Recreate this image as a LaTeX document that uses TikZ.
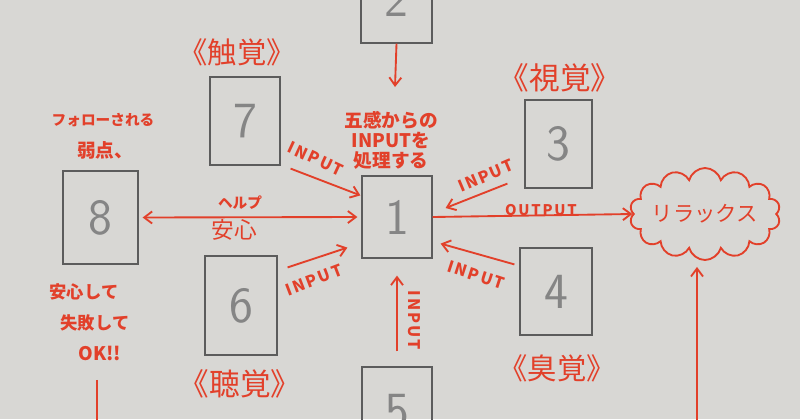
\documentclass[tikz,border=0pt]{standalone}
\usepackage{fontspec}
\newfontfamily\jpfont{Noto Sans CJK JP}
\newfontfamily\capsfont{Noto Sans CJK JP}[LetterSpace=12]
\usetikzlibrary{arrows.meta,shapes.symbols,calc}
\definecolor{paper}{RGB}{216,215,212}
\definecolor{ink}{RGB}{226,64,42}
\definecolor{pencil}{RGB}{92,92,92}
\tikzset{every picture/.style={line width=0.75pt},
  redtip/.tip={Straight Barb[length=6pt,width=9pt]},
  box/.style 2 args={draw=pencil, line width=0.9pt, inner sep=0pt, minimum width=#1*0.75pt, minimum height=#2*0.75pt, text=pencil!75, font=\sffamily\fontsize{38}{38}\selectfont},
  redline/.style={draw=ink, line width=1.4pt, -redtip},
  lbl/.style={text=ink, inner sep=0pt, font=\jpfont\bfseries\fontsize{#1}{#1}\selectfont},
  big/.style={text=ink, inner sep=0pt, font=\jpfont\fontsize{#1}{#1}\selectfont},
  caps/.style={text=ink, inner sep=0pt, font=\capsfont\bfseries\fontsize{#1}{#1}\selectfont}}

\begin{document}
\begin{tikzpicture}[x=0.75pt,y=0.75pt,yscale=-1,xscale=1]
	\useasboundingbox (0,0) rectangle (800,419);
	\clip (0,0) rectangle (800,419);
	%Paper
	\fill [paper] (0,0) rectangle (800,419);

	%Shape: Rectangle (senses)
	\node [box={71}{88}] (b2) at (396.5,-1) {2};
	\node [box={70}{88}] (b7) at (245,121) {7};
	\node [box={67}{88}] (b3) at (558.5,144) {3};
	\node [box={75}{93}] (b8) at (100.5,217.5) {8};
	\node [box={70}{82}] (b1) at (397,217) {1};
	\node [box={72}{99}] (b6) at (241,305.5) {6};
	\node [box={72}{87}] (b4) at (556,291.5) {4};
	\node [box={70}{88}] (b5) at (397,411) {5};
	%Shape: Cloud
	\node [cloud, draw=ink, line width=1.4pt, cloud puffs=14, cloud ignores aspect, minimum width=136*0.75pt, minimum height=92*0.75pt, big=16] (relax) at (705,214) {リラックス};

	%Free ends
	\coordinate (t2) at (395,87);
	\coordinate (c0) at (697,430);
	\coordinate (okend) at (97,430);

	%Straight Lines
	\draw [redline] (b2.south) -- (t2);
	\draw [redline] ($(b7.south east)+(10,3)$) -- ($(b1.north west)+(-1,20)$);
	\draw [redline] ($(b3.south west)+(-17,-5)$) -- ($(b1.east)+(13,-9)$);
	\draw [redline] ($(b4.north west)+(-5,17)$) -- ($(b1.south east)+(8,-15)$);
	\draw [redline] ($(b6.north east)+(10,12)$) -- ($(b1.south west)+(-14,-11)$);
	\draw [redline] ($(b5.north)+(0,-15)$) -- ($(b1.south)+(0,17)$);
	\draw [redline, redtip-redtip] ($(b8.east)+(4,0)$) -- ($(b1.west)+(-4,0)$);
	\draw [redline] (b1.east) -- (relax.west);
	\draw [redline] (c0) -- ($(relax.south)+(-8,6)$);

	% Text Node
	\node [lbl=14, align=center, font=\jpfont\bfseries\fontsize{14}{15}\selectfont] (task) at (391,140) {五感からの\\INPUTを\\処理する};
	% Text Node
	\node [caps=12, rotate=-25] (in7) at (316,159) {INPUT};
	\node [caps=12, rotate=23] (in3) at (486,176) {INPUT};
	\node [caps=12, rotate=-18] (in4) at (476,275) {INPUT};
	\node [caps=12, rotate=21] (in6) at (314,280) {INPUT};
	\node [caps=12, rotate=-90] (in5) at (414,320) {INPUT};
	\node [caps=11] (out) at (541,210) {OUTPUT};
	% Text Node
	\node [lbl=11] (help) at (240,203) {ヘルプ};
	\node [big=17] (safe) at (234,230) {安心};
	% Text Node
	\node [big=22] (touch) at (237,52) {《触覚》};
	\node [big=23] (sight) at (560,78) {《視覚》};
	\node [big=23] (hear) at (240,384) {《聴覚》};
	\node [big=22] (smell) at (557,368) {《臭覚》};
	% Text Node
	\node [lbl=11] (follow) at (103,120) {フォローされる};
	\node [lbl=14] (weak) at (105,150) {弱点、};
	\node [lbl=13] (calm) at (84,292) {安心して};
	\node [lbl=13] (fail) at (95,323) {失敗して};
	\node [lbl=14] (ok) at (100,353) {OK!!};
	\draw [draw=ink, line width=1.4pt] ($(ok.south)+(-3,19)$) -- (okend);

\end{tikzpicture}
\end{document}
